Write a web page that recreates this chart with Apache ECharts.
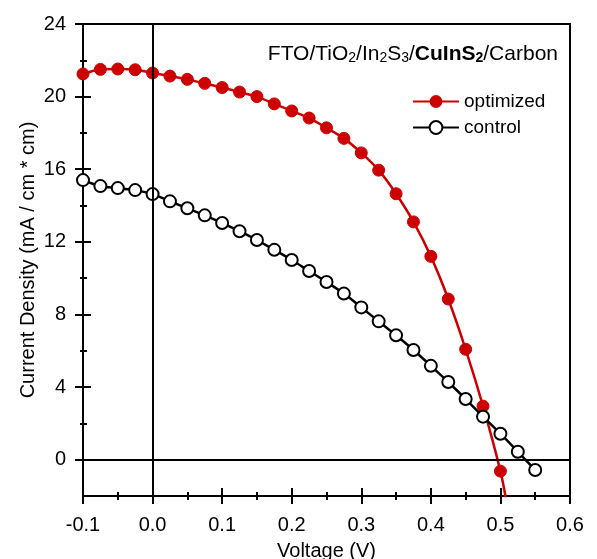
<!DOCTYPE html>
<html>
<head>
<meta charset="utf-8">
<script src="https://cdn.jsdelivr.net/npm/echarts@6/dist/echarts.min.js"></script>
<style>
  html, body { margin: 0; padding: 0; background: #fff; }
  #main { width: 597px; height: 559px; }
</style>
</head>
<body>
<div id="main"></div>
<script>
// J-V data
var optimizedV = [-0.1, -0.075, -0.05, -0.025, 0, 0.025, 0.05, 0.075, 0.1, 0.125, 0.15, 0.175, 0.2,
  0.225, 0.25, 0.275, 0.3, 0.325, 0.35, 0.375, 0.4, 0.425, 0.45, 0.475, 0.5];
var optimizedJ = [21.25, 21.5, 21.52, 21.48, 21.3, 21.13, 20.95, 20.73, 20.5, 20.25, 20.0, 19.6, 19.21,
  18.82, 18.28, 17.7, 16.9, 15.95, 14.65, 13.1, 11.2, 8.85, 6.08, 2.95, -0.63];
// fitted line keeps going below the last marker
var optimizedTail = [0.51, -2.6];

var controlV = [-0.1, -0.075, -0.05, -0.025, 0, 0.025, 0.05, 0.075, 0.1, 0.125, 0.15, 0.175, 0.2,
  0.225, 0.25, 0.275, 0.3, 0.325, 0.35, 0.375, 0.4, 0.425, 0.45, 0.475, 0.5, 0.525, 0.55];
var controlJ = [15.4, 15.07, 14.96, 14.85, 14.63, 14.23, 13.85, 13.46, 13.04, 12.58, 12.1, 11.56, 11.0,
  10.39, 9.79, 9.15, 8.39, 7.62, 6.85, 6.04, 5.17, 4.28, 3.34, 2.37, 1.43, 0.44, -0.57];

// y ticks
var yMajorTicks = [0, 4, 8, 12, 16, 20, 24];
var yMinorTicks = [2, 6, 10, 14, 18, 22];

var chart = echarts.init(document.getElementById('main'));

function pairs(xs, ys) {
  var out = [];
  for (var i = 0; i < xs.length; i++) out.push([xs[i], ys[i]]);
  return out;
}

var optData = pairs(optimizedV, optimizedJ);
optData.push({ value: optimizedTail, symbol: 'none' });

var black = '#000';
var red = '#cc0000';
var font = 'Liberation Sans';

// x axis: one with outside ticks + labels, one with inside ticks only (so ticks cross the line)
function xAx(inside) {
  return {
    type: 'value', gridIndex: 0, position: 'bottom',
    min: -0.1, max: 0.6, interval: 0.1,
    splitLine: { show: false },
    axisLine: { show: !inside, onZero: false, lineStyle: { color: black, width: 2 } },
    axisTick: { inside: inside, length: 8, lineStyle: { color: black, width: 2 } },
    minorTick: { show: true, splitNumber: 2, length: 4, lineStyle: { color: black, width: 2 } },
    minorSplitLine: { show: false },
    axisLabel: {
      show: !inside, fontSize: 20, color: black, margin: 19, fontFamily: font,
      formatter: function (v) { return v.toFixed(1); }
    },
    name: inside ? '' : 'Voltage (V)',
    nameLocation: 'middle', nameGap: 45, nameMoveOverlap: false,
    nameTextStyle: { fontSize: 20, color: black, fontFamily: font }
  };
}
function yAx(inside, ticks, len, main) {
  return {
    type: 'value', gridIndex: 0, position: 'left',
    min: -2, max: 24,
    splitLine: { show: false },
    axisLine: { show: main, onZero: false, lineStyle: { color: black, width: 2 } },
    axisTick: { inside: inside, length: len, customValues: ticks, lineStyle: { color: black, width: 2 } },
    axisLabel: {
      show: main, fontSize: 20, color: black, margin: 17, fontFamily: font,
      customValues: yMajorTicks
    },
    name: main ? 'Current Density (mA / cm * cm)' : '',
    nameLocation: 'middle', nameGap: 45, nameMoveOverlap: false,
    nameTextStyle: { fontSize: 20, color: black, fontFamily: font }
  };
}

var option = {
  animation: false,
  textStyle: { fontFamily: font },
  grid: {
    left: 83, right: 27, top: 24, bottom: 63,
    outerBoundsMode: 'none',
    show: true, borderColor: black, borderWidth: 2, backgroundColor: 'transparent'
  },
  xAxis: [xAx(false), xAx(true)],
  yAxis: [
    yAx(false, yMajorTicks, 8, true),
    yAx(true, yMajorTicks, 8, false),
    yAx(false, yMinorTicks, 3, false),
    yAx(true, yMinorTicks, 4, false)
  ],
  legend: {
    orient: 'vertical',
    left: 407, top: 87,
    itemWidth: 46, itemHeight: 16, itemGap: 7,
    textStyle: { fontSize: 19, color: black, fontFamily: font },
    data: ['optimized', 'control']
  },
  graphic: [{
    type: 'text',
    right: 39, top: 35,
    style: {
      text: 'FTO/TiO{s|2}/In{s|2}S{s|3}/{b|CuInS}{bs|2}/Carbon',
      font: '21px "Liberation Sans"',
      lineHeight: 21,
      fill: black,
      rich: {
        s: { fontSize: 14, fontFamily: font, verticalAlign: 'bottom', lineHeight: 14, padding: [16, 0, 0, 0] },
        b: { fontSize: 21, fontFamily: font, fontWeight: 'bold', lineHeight: 21 },
        bs: { fontSize: 14, fontFamily: font, fontWeight: 'bold', verticalAlign: 'bottom', lineHeight: 14, padding: [16, 0, 0, 0] }
      }
    }
  }],
  series: [{
    name: 'optimized',
    type: 'line',
    xAxisIndex: 0, yAxisIndex: 0,
    data: optData,
    smooth: 0.3,
    symbol: 'circle', symbolSize: 12,
    itemStyle: { color: red, borderColor: red },
    lineStyle: { color: red, width: 2.5 },
    clip: true,
    z: 3,
    markLine: {
      silent: true, symbol: 'none', animation: false,
      label: { show: false },
      lineStyle: { color: black, width: 2, type: 'solid' },
      data: [{ xAxis: 0 }, { yAxis: 0 }]
    }
  }, {
    name: 'control',
    type: 'line',
    xAxisIndex: 0, yAxisIndex: 0,
    data: pairs(controlV, controlJ),
    smooth: 0.3,
    symbol: 'circle', symbolSize: 12,
    itemStyle: { color: '#fff', borderColor: black, borderWidth: 2 },
    lineStyle: { color: black, width: 2.5 },
    clip: true,
    z: 4
  }]
};
chart.setOption(option);
</script>
</body>
</html>
